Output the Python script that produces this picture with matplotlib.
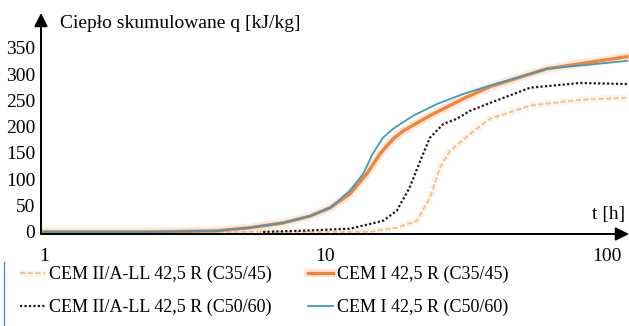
import matplotlib
matplotlib.use('Agg')
import matplotlib.pyplot as plt
import matplotlib.patheffects as pe
from matplotlib.lines import Line2D

# t [h] and q [kJ/kg]
t_c35_ii = [1.0, 3.0, 8.0, 14.4, 17.9, 21.1, 23.5, 25.5, 27.7, 32.6, 38.4, 53.3, 80.2, 117.8]
q_c35_ii = [0, 0, 0, 0, 8, 21, 65, 122, 154, 186, 215, 240, 251, 255]

t_c35_i = [1.0, 2.38, 4.12, 5.39, 7.06, 8.81, 10.4, 12.2, 14.0, 15.6, 17.4, 18.9, 23.5, 30.8, 38.4, 61.2, 117.8]
q_c35_i = [0, 0, 2, 8, 17, 30, 46, 72, 110, 148, 177, 192, 221, 253, 276, 310, 333]

t_c50_ii = [6.0, 8.1, 12.2, 16.0, 17.9, 19.9, 21.7, 23.5, 26.2, 29.3, 32.6, 38.4, 53.3, 80.2, 117.8]
q_c50_ii = [0, 2, 6, 21, 40, 84, 135, 179, 205, 215, 230, 245, 274, 283, 281]

t_c50_i = [1.0, 2.38, 4.12, 5.39, 7.06, 8.81, 10.4, 12.2, 13.6, 14.7, 16.0, 17.4, 20.5, 24.9, 30.8, 38.4, 61.2, 117.8]
q_c50_i = [0, 0, 2, 8, 17, 30, 46, 78, 110, 148, 179, 196, 221, 243, 262, 278, 310, 325]

labels = ['CEM II/A-LL 42,5 R (C35/45)', 'CEM II/A-LL 42,5 R (C50/60)',
          'CEM I 42,5 R (C35/45)', 'CEM I 42,5 R (C50/60)']
yticks = [0, 50, 100, 150, 200, 250, 300, 350]
xticks = [1, 10, 100]

plt.rcParams['font.family'] = ['Liberation Serif', 'DejaVu Serif']
plt.rcParams['font.size'] = 14

fig = plt.figure(figsize=(6.29, 3.26), dpi=100)
ax = fig.add_axes([41 / 629, 92 / 326, 588 / 629, 221 / 326])

halo_lo = [pe.Stroke(linewidth=5, foreground='#fde0c0', alpha=0.4), pe.Normal()]
halo_o = [pe.Stroke(linewidth=6, foreground='#f9b98a', alpha=0.3), pe.Normal()]

l1, = ax.plot(t_c35_ii, q_c35_ii, color='#f9bf85', lw=1.3, ls=(0, (3, 1.2)), path_effects=halo_lo)
l3, = ax.plot(t_c35_i, q_c35_i, color='#f2843a', lw=2.4, path_effects=halo_o)
l2, = ax.plot(t_c50_ii, q_c50_ii, color='#1a1a1a', lw=1.6, ls=(0, (1, 1)))
l4, = ax.plot(t_c50_i, q_c50_i, color='#3a9cc0', lw=1.3)

ax.set_xscale('log')
ax.set_xlim(0.976, 119.7)
ax.set_ylim(-4, 416)

for s in ax.spines.values():
    s.set_visible(False)
arrow = dict(arrowstyle='-|>', color='black', lw=1.4, mutation_scale=20, shrinkA=0, shrinkB=0)
ax.annotate('', xy=(0, 1), xytext=(0, 0), xycoords='axes fraction', arrowprops=arrow)
ax.annotate('', xy=(1, 0), xytext=(0, 0), xycoords='axes fraction', arrowprops=arrow)

ax.set_yticks(yticks)
ax.set_yticklabels([str(v) for v in yticks])
ax.set_xticks(xticks)
ax.set_xticklabels([str(v) for v in xticks])
ax.minorticks_off()
ax.tick_params(axis='y', length=0, pad=4)
ax.tick_params(axis='x', length=0, pad=10)

ax.text(19 / 588, 1 - 10 / 221, 'Ciepło skumulowane q [kJ/kg]', transform=ax.transAxes,
        ha='left', va='center')
ax.text(1 - 4 / 588, 20 / 221, 't [h]', transform=ax.transAxes, ha='right', va='center')

leg_kw = dict(loc='upper left', fontsize=13, frameon=False, borderpad=0, borderaxespad=0,
              handlelength=1.4, handletextpad=0.2, labelspacing=0.85)
fig.legend([l1, l2], labels[:2], bbox_to_anchor=(20 / 629, 1 - 266 / 326), **leg_kw)
fig.legend([l3, l4], labels[2:], bbox_to_anchor=(308 / 629, 1 - 266 / 326), **leg_kw)

fig.add_artist(Line2D([4 / 629, 4 / 629], [0, 64 / 326], color='#4a90c8', lw=1))

fig.savefig('out.png', dpi=100)
